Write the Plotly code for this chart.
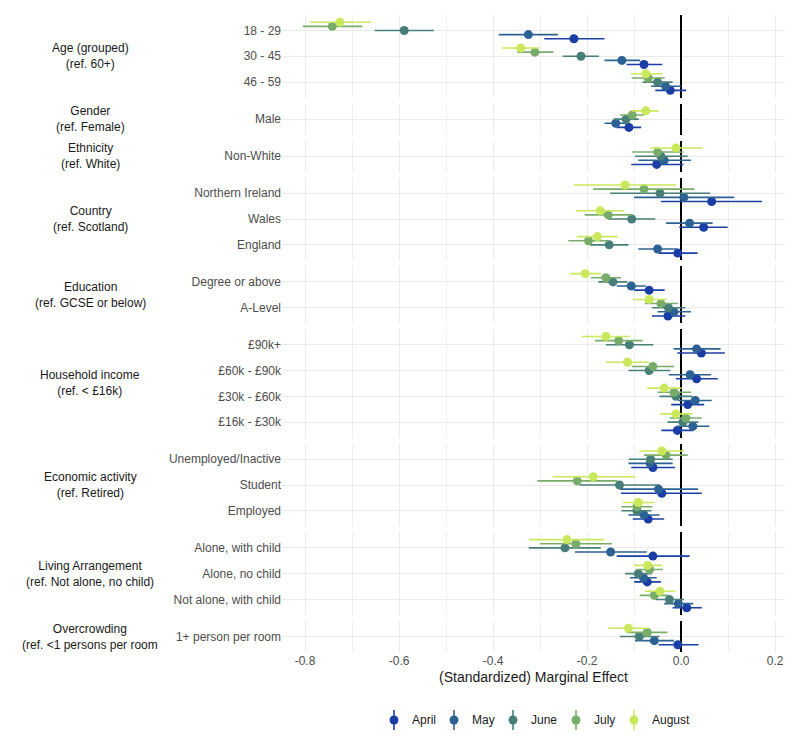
import plotly.graph_objects as go
from plotly.subplots import make_subplots

# ---------------- data ----------------
categories = [
    "18 - 29", "30 - 45", "46 - 59",
    "Male",
    "Non-White",
    "Northern Ireland", "Wales", "England",
    "Degree or above", "A-Level",
    "£90k+", "£60k - £90k", "£30k - £60k", "£16k - £30k",
    "Unemployed/Inactive", "Student", "Employed",
    "Alone, with child", "Alone, no child", "Not alone, with child",
    "1+ person per room",
]
group_labels = [
    "Age (grouped)<br>(ref. 60+)",
    "Gender<br>(ref. Female)",
    "Ethnicity<br>(ref. White)",
    "Country<br>(ref. Scotland)",
    "Education<br>(ref. GCSE or below)",
    "Household income<br>(ref. < £16k)",
    "Economic activity<br>(ref. Retired)",
    "Living Arrangement<br>(ref. Not alone, no child)",
    "Overcrowding<br>(ref. <1 persons per room",
]
group_sizes = [3, 1, 1, 3, 2, 4, 3, 3, 1]

months = ["April", "May", "June", "July", "August"]

april_est = [-0.228, -0.079, -0.023, -0.111, -0.052, 0.065, 0.048, -0.007, -0.068, -0.028, 0.043, 0.033, 0.014, -0.008, -0.060, -0.041, -0.070, -0.060, -0.072, 0.012, -0.007]
april_lo = [-0.291, -0.116, -0.055, -0.137, -0.106, -0.043, -0.004, -0.048, -0.100, -0.062, -0.008, -0.011, -0.021, -0.042, -0.106, -0.128, -0.103, -0.137, -0.100, -0.018, -0.048]
april_hi = [-0.163, -0.040, 0.011, -0.085, 0.005, 0.172, 0.099, 0.035, -0.035, 0.009, 0.093, 0.078, 0.049, 0.026, -0.013, 0.044, -0.036, 0.018, -0.043, 0.044, 0.037]

may_est = [-0.325, -0.126, -0.033, -0.139, -0.036, 0.006, 0.018, -0.050, -0.106, -0.015, 0.033, 0.019, 0.030, 0.025, -0.066, -0.048, -0.079, -0.150, -0.080, -0.006, -0.057]
may_lo = [-0.388, -0.163, -0.064, -0.163, -0.091, -0.100, -0.032, -0.091, -0.137, -0.050, -0.016, -0.026, -0.006, -0.010, -0.112, -0.130, -0.112, -0.226, -0.109, -0.036, -0.098]
may_hi = [-0.262, -0.087, 0.000, -0.111, 0.021, 0.113, 0.067, -0.009, -0.075, 0.021, 0.084, 0.064, 0.065, 0.060, -0.018, 0.036, -0.046, -0.073, -0.052, 0.026, -0.015]

june_est = [-0.589, -0.213, -0.050, -0.117, -0.043, -0.045, -0.105, -0.153, -0.145, -0.027, -0.110, -0.068, -0.011, 0.004, -0.065, -0.131, -0.094, -0.247, -0.091, -0.025, -0.089]
june_lo = [-0.652, -0.252, -0.082, -0.143, -0.098, -0.151, -0.155, -0.194, -0.176, -0.062, -0.160, -0.112, -0.046, -0.029, -0.111, -0.216, -0.127, -0.324, -0.119, -0.055, -0.130]
june_hi = [-0.526, -0.175, -0.018, -0.090, 0.014, 0.062, -0.055, -0.112, -0.114, 0.009, -0.059, -0.023, 0.024, 0.037, -0.018, -0.045, -0.063, -0.171, -0.062, 0.006, -0.046]

july_est = [-0.742, -0.311, -0.070, -0.104, -0.050, -0.079, -0.155, -0.197, -0.160, -0.043, -0.133, -0.060, -0.015, 0.010, -0.032, -0.221, -0.094, -0.224, -0.067, -0.057, -0.072]
july_lo = [-0.805, -0.348, -0.105, -0.130, -0.104, -0.187, -0.205, -0.240, -0.192, -0.077, -0.183, -0.105, -0.050, -0.024, -0.079, -0.306, -0.127, -0.300, -0.096, -0.088, -0.116]
july_hi = [-0.678, -0.272, -0.035, -0.079, 0.005, 0.028, -0.103, -0.155, -0.128, -0.007, -0.082, -0.015, 0.021, 0.044, 0.014, -0.136, -0.061, -0.147, -0.039, -0.027, -0.029]

august_est = [-0.726, -0.341, -0.075, -0.075, -0.011, -0.119, -0.172, -0.178, -0.204, -0.068, -0.160, -0.114, -0.036, -0.011, -0.041, -0.187, -0.091, -0.243, -0.071, -0.045, -0.112]
august_lo = [-0.789, -0.381, -0.107, -0.105, -0.066, -0.228, -0.224, -0.222, -0.236, -0.103, -0.211, -0.160, -0.072, -0.045, -0.089, -0.273, -0.124, -0.323, -0.100, -0.077, -0.155]
august_hi = [-0.660, -0.301, -0.040, -0.048, 0.046, -0.011, -0.121, -0.135, -0.171, -0.031, -0.109, -0.068, 0.001, 0.024, 0.006, -0.098, -0.057, -0.163, -0.041, -0.012, -0.070]

x_ticks = [-0.8, -0.6, -0.4, -0.2, 0.0, 0.2]
x_tick_labels = ["-0.8", "-0.6", "-0.4", "-0.2", "0.0", "0.2"]
x_minor = [-0.7, -0.5, -0.3, -0.1, 0.1]

# ---------------- styling ----------------
colors = {"April": "#1B3EA6", "May": "#2C6193", "June": "#477E78",
          "July": "#78AD69", "August": "#C9E85B"}
offsets = {"April": -0.32, "May": -0.16, "June": 0.0, "July": 0.16, "August": 0.32}
series = {
    "April": (april_est, april_lo, april_hi),
    "May": (may_est, may_lo, may_hi),
    "June": (june_est, june_lo, june_hi),
    "July": (july_est, july_lo, july_hi),
    "August": (august_est, august_lo, august_hi),
}
FONT = "Liberation Sans, Arial, sans-serif"
W, H = 800, 739
PAGE = 8  # default body margin of the html page
# desired panel box in page pixels: left 282, right 785, top 15, bottom 652
ML = 282 - PAGE
MT = 15 - PAGE
MR = W - (785 - PAGE)
MB = H - (652 - PAGE)
plot_w = W - ML - MR
plot_h = H - MT - MB


def px_x(page_x):
    return (page_x - PAGE - ML) / plot_w


def px_y(page_y):
    return 1 - (page_y - PAGE - MT) / plot_h


nrows = len(group_sizes)
fig = make_subplots(
    rows=nrows, cols=1, shared_xaxes=True,
    row_heights=[n + 0.2 for n in group_sizes],
    vertical_spacing=6.1 / plot_h,
)

start = 0
for r, n in enumerate(group_sizes, start=1):
    cats = categories[start:start + n]
    base = [n - j for j in range(n)]
    for m in months:
        e, lo, hi = series[m]
        ev = e[start:start + n]
        lv = lo[start:start + n]
        hv = hi[start:start + n]
        fig.add_trace(
            go.Scatter(
                x=ev,
                y=[b + offsets[m] for b in base],
                mode="markers",
                name=m,
                legendgroup=m,
                showlegend=False,
                marker=dict(size=9, color=colors[m]),
                error_x=dict(
                    type="data", symmetric=False,
                    array=[h - v for h, v in zip(hv, ev)],
                    arrayminus=[v - l for v, l in zip(ev, lv)],
                    thickness=1.6, width=0, color=colors[m],
                ),
                hovertemplate="%{x:.3f}<extra>" + m + "</extra>",
            ),
            row=r, col=1,
        )
    fig.update_yaxes(
        range=[0.4, n + 0.6], tickvals=base, ticktext=cats,
        showgrid=True, gridcolor="#EBEBEB", gridwidth=1.2,
        zeroline=False, showline=False, ticks="",
        tickfont=dict(size=12, color="#4D4D4D", family=FONT),
        row=r, col=1,
    )
    yref = "y domain" if r == 1 else f"y{r} domain"
    fig.add_annotation(
        text=group_labels[r - 1], xref="paper", yref=yref,
        x=px_x(90), y=0.5, xanchor="center", yanchor="middle",
        showarrow=False, align="center",
        font=dict(size=12, color="#1A1A1A", family=FONT),
    )
    start += n

fig.update_xaxes(
    range=[-0.849, 0.221], tickvals=x_ticks, ticktext=x_tick_labels,
    showgrid=True, gridcolor="#EBEBEB", gridwidth=1.2,
    minor=dict(tickvals=x_minor, showgrid=True, gridcolor="#EFEFEF", gridwidth=1),
    zeroline=True, zerolinecolor="black", zerolinewidth=1.6,
    showline=False, ticks="",
    tickfont=dict(size=12, color="#4D4D4D", family=FONT),
)
fig.update_xaxes(
    title=dict(text="(Standardized) Marginal Effect", standoff=5,
               font=dict(size=14, color="#1A1A1A", family=FONT)),
    row=nrows, col=1,
)

# ---- custom legend (point-range keys like ggplot) ----
legend_x = [394, 454, 513, 576, 634]
legend_y = 720
for m, lx in zip(months, legend_x):
    fig.add_shape(type="line", xref="paper", yref="paper",
                  x0=px_x(lx), x1=px_x(lx), y0=px_y(legend_y - 10), y1=px_y(legend_y + 10),
                  line=dict(color=colors[m], width=1.6))
    fig.add_shape(type="circle", xref="paper", yref="paper",
                  xsizemode="pixel", ysizemode="pixel",
                  xanchor=px_x(lx), yanchor=px_y(legend_y),
                  x0=-4.5, x1=4.5, y0=-4.5, y1=4.5,
                  fillcolor=colors[m], line=dict(width=0))
    fig.add_annotation(text=m, xref="paper", yref="paper",
                       x=px_x(lx + 16), y=px_y(legend_y), xanchor="left", yanchor="middle",
                       showarrow=False, font=dict(size=12, color="#1A1A1A", family=FONT))

fig.update_layout(
    width=W, height=H,
    margin=dict(l=ML, r=MR, t=MT, b=MB),
    paper_bgcolor="white", plot_bgcolor="white",
    font=dict(family=FONT, color="#1A1A1A"),
    showlegend=False,
)

fig.write_html("out.html")
